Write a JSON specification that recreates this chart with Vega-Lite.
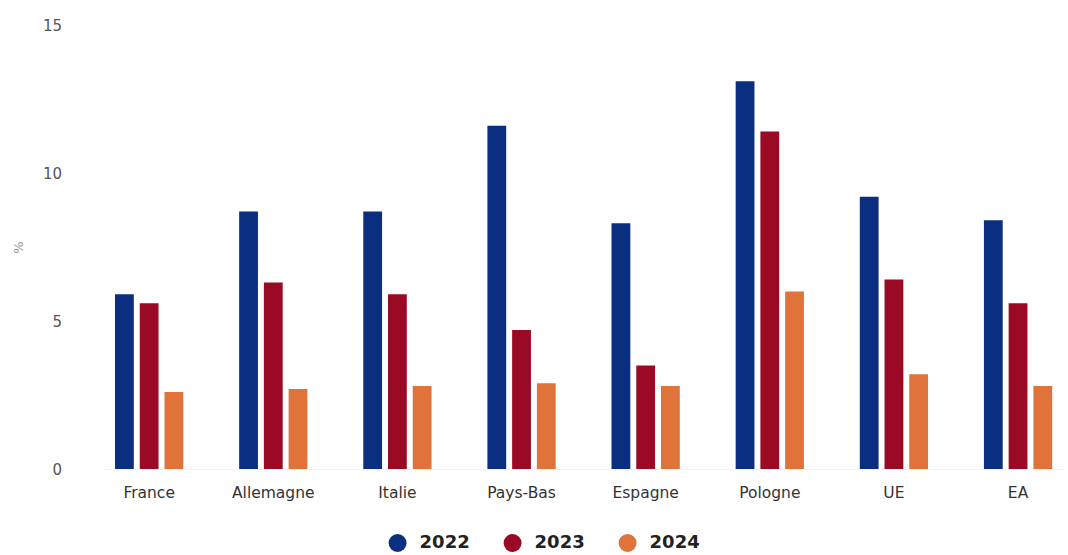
{
  "$schema": "https://vega.github.io/schema/vega-lite/v6.json",
  "width": 962,
  "height": 444,
  "autosize": {"type": "none"},
  "padding": {"left": 102.6, "top": 25, "right": 3.4, "bottom": 86},
  "background": "white",
  "data": {
    "values": [
      {"pays": "France", "annee": "2022", "valeur": 5.9},
      {"pays": "France", "annee": "2023", "valeur": 5.6},
      {"pays": "France", "annee": "2024", "valeur": 2.6},
      {"pays": "Allemagne", "annee": "2022", "valeur": 8.7},
      {"pays": "Allemagne", "annee": "2023", "valeur": 6.3},
      {"pays": "Allemagne", "annee": "2024", "valeur": 2.7},
      {"pays": "Italie", "annee": "2022", "valeur": 8.7},
      {"pays": "Italie", "annee": "2023", "valeur": 5.9},
      {"pays": "Italie", "annee": "2024", "valeur": 2.8},
      {"pays": "Pays-Bas", "annee": "2022", "valeur": 11.6},
      {"pays": "Pays-Bas", "annee": "2023", "valeur": 4.7},
      {"pays": "Pays-Bas", "annee": "2024", "valeur": 2.9},
      {"pays": "Espagne", "annee": "2022", "valeur": 8.3},
      {"pays": "Espagne", "annee": "2023", "valeur": 3.5},
      {"pays": "Espagne", "annee": "2024", "valeur": 2.8},
      {"pays": "Pologne", "annee": "2022", "valeur": 13.1},
      {"pays": "Pologne", "annee": "2023", "valeur": 11.4},
      {"pays": "Pologne", "annee": "2024", "valeur": 6.0},
      {"pays": "UE", "annee": "2022", "valeur": 9.2},
      {"pays": "UE", "annee": "2023", "valeur": 6.4},
      {"pays": "UE", "annee": "2024", "valeur": 3.2},
      {"pays": "EA", "annee": "2022", "valeur": 8.4},
      {"pays": "EA", "annee": "2023", "valeur": 5.6},
      {"pays": "EA", "annee": "2024", "valeur": 2.8}
    ]
  },
  "config": {
    "view": {"stroke": null},
    "font": "DejaVu Sans"
  },
  "mark": {"type": "bar"},
  "encoding": {
    "x": {
      "field": "pays",
      "type": "nominal",
      "sort": null,
      "scale": {"paddingInner": 0.45, "paddingOuter": 0.1},
      "axis": {
        "title": null,
        "labelAngle": 0,
        "labelFontSize": 15.5,
        "labelColor": "#333333",
        "labelPadding": 16,
        "ticks": false,
        "domain": true,
        "domainColor": "#eef3f8",
        "grid": false
      }
    },
    "xOffset": {
      "field": "annee",
      "type": "nominal",
      "scale": {"paddingInner": 0.24, "paddingOuter": 0}
    },
    "y": {
      "field": "valeur",
      "type": "quantitative",
      "scale": {"domain": [0, 15], "nice": false},
      "axis": {
        "title": "%",
        "titleColor": "#999999",
        "titleFontSize": 13,
        "titleFontWeight": "normal",
        "titlePadding": 17,
        "values": [0, 5, 10, 15],
        "labelFontSize": 15,
        "labelColor": "#555555",
        "labelPadding": 41,
        "ticks": false,
        "domain": false,
        "grid": false
      }
    },
    "color": {
      "field": "annee",
      "type": "nominal",
      "scale": {
        "domain": ["2022", "2023", "2024"],
        "range": ["#0b2f80", "#9b0a24", "#e0733a"]
      },
      "legend": {
        "title": null,
        "orient": "none",
        "direction": "horizontal",
        "legendX": 286,
        "legendY": 509,
        "symbolType": "circle",
        "symbolSize": 324,
        "symbolStrokeWidth": 0,
        "labelFontSize": 18,
        "labelFontWeight": "bold",
        "labelColor": "#222222",
        "labelOffset": 13,
        "columnPadding": 33
      }
    }
  }
}
